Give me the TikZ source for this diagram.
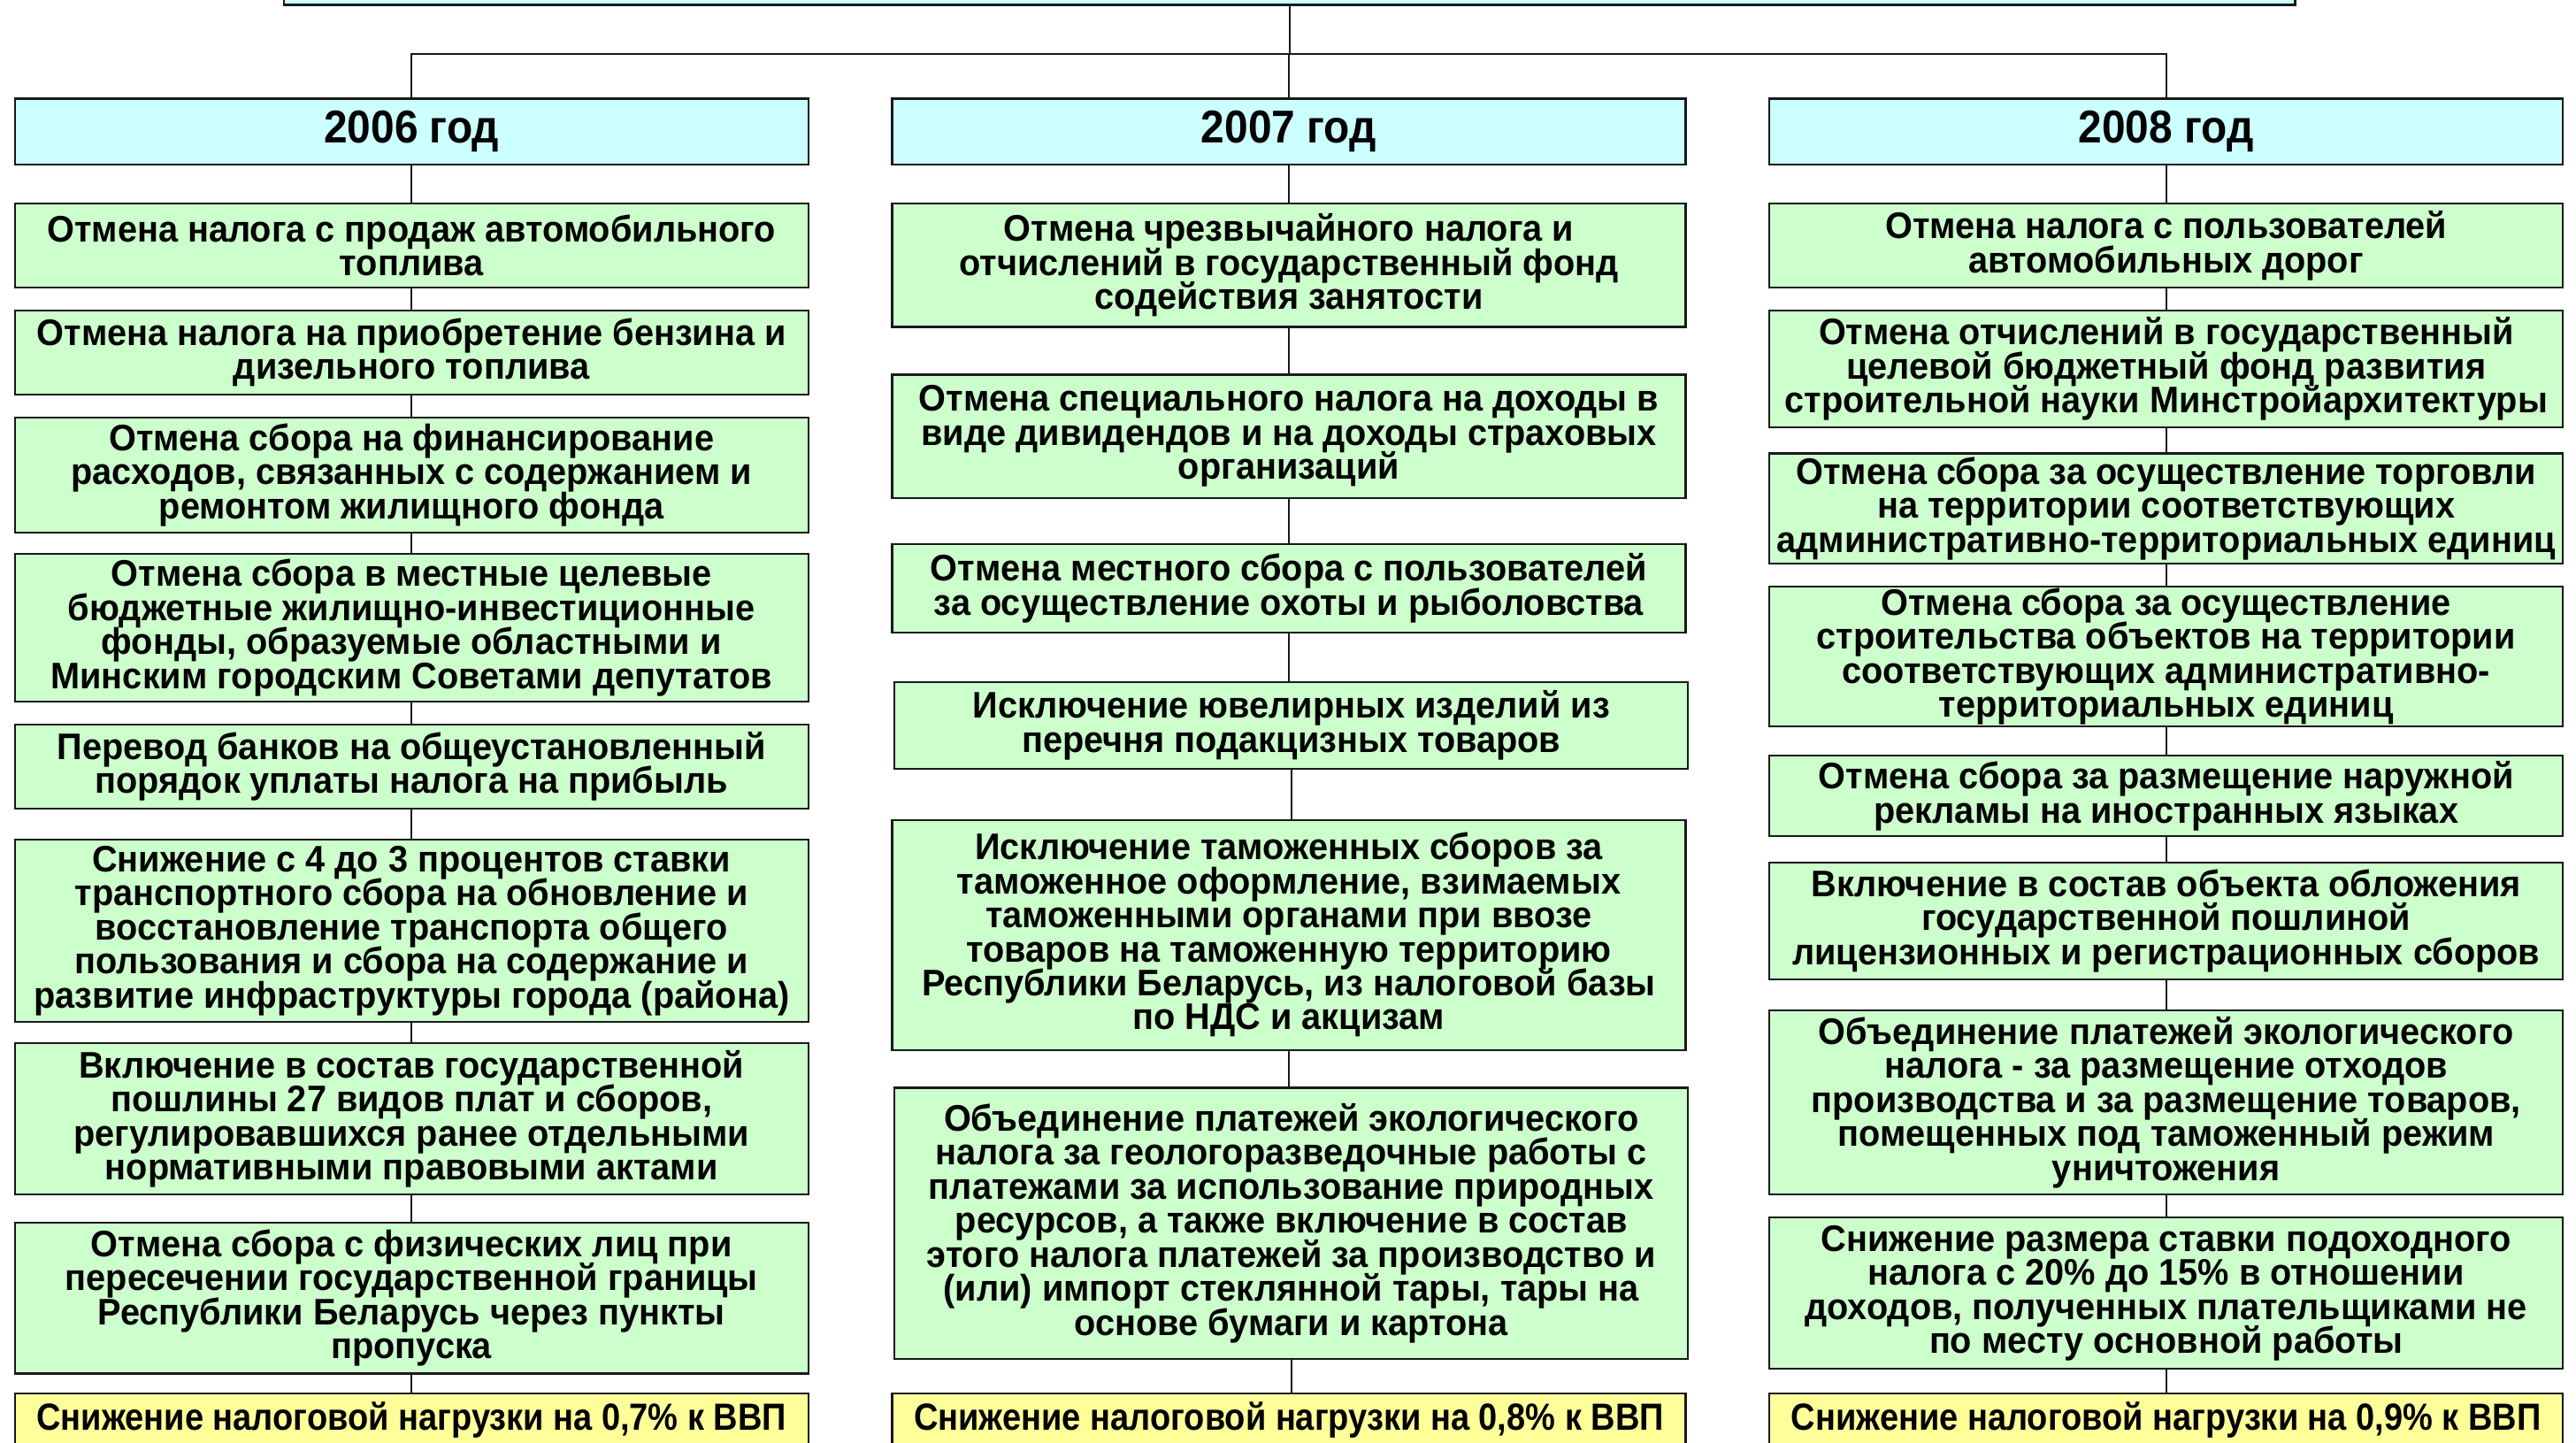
\documentclass[tikz,border=0pt]{standalone}
\usepackage{fontspec}
\setmainfont{Liberation Sans}
\newfontfamily\bodyfont{Liberation Sans}[FakeStretch=0.95]
\newfontfamily\yearfont{Liberation Sans}[FakeStretch=0.92]
\newfontfamily\footfont{Liberation Sans}[FakeStretch=0.89]
\newcommand\tightlines{\lineskiplimit=-100pt\relax\lineskip=0pt\relax}
\definecolor{gfill}{HTML}{CCFFCC}
\definecolor{cfill}{HTML}{CCFFFF}
\definecolor{yfill}{HTML}{FFFF99}
\begin{document}
\begin{tikzpicture}[x=1pt,y=-1pt,
  base/.style={draw=black!90,line width=1.2pt,inner sep=0pt,align=center,
    minimum width=483pt,font=\bodyfont\bfseries\fontsize{22.5}{20.7}\selectfont\tightlines},
  gbox/.style={base,fill=gfill},
  ybox/.style={base,fill=cfill,font=\yearfont\bfseries\fontsize{28}{28}\selectfont},
  rbox/.style={base,fill=yfill,font=\footfont\bfseries\fontsize{23}{23}\selectfont},
  tbox/.style={base,fill=cfill,minimum width=1224pt},
  conn/.style={draw=black!90,line width=1pt}]
\useasboundingbox (0,0) rectangle (1568,878);
\clip (0,0) rectangle (1568,878);
% top box
\node[tbox,minimum height=60pt] (top) at (785,-27) {};
% year boxes
\node[ybox,minimum height=40pt] (y06) at (250.5,80) {2006 год};
\node[ybox,minimum height=40pt] (y07) at (784.5,80) {2007 год};
\node[ybox,minimum height=40pt] (y08) at (1318.5,80) {2008 год};
\coordinate (hub) at (785,33);
\draw[conn] (top.south) -- (hub);
\draw[conn] (y06.north) |- (hub);
\draw[conn] (y08.north) |- (hub);
\draw[conn] (y07.north) -- (y07.north |- hub);
% column 1
\node[gbox,minimum height=51pt] (a1) at (250.5,149.5) {Отмена налога с продаж автомобильного\\топлива};
\node[gbox,minimum height=51pt] (a2) at (250.5,214.5) {Отмена налога на приобретение бензина и\\дизельного топлива};
\node[gbox,minimum height=70pt] (a3) at (250.5,289) {Отмена сбора на финансирование\\расходов, связанных с содержанием и\\ремонтом жилищного фонда};
\node[gbox,minimum height=90pt] (a4) at (250.5,382) {Отмена сбора в местные целевые\\бюджетные жилищно-инвестиционные\\фонды, образуемые областными и\\Минским городским Советами депутатов};
\node[gbox,minimum height=51pt] (a5) at (250.5,466.5) {Перевод банков на общеустановленный\\порядок уплаты налога на прибыль};
\node[gbox,minimum height=111pt] (a6) at (250.5,566.5) {Снижение с 4 до 3 процентов ставки\\транспортного сбора на обновление и\\восстановление транспорта общего\\пользования и сбора на содержание и\\развитие инфраструктуры города (района)};
\node[gbox,minimum height=92pt] (a7) at (250.5,681) {Включение в состав государственной\\пошлины 27 видов плат и сборов,\\регулировавшихся ранее отдельными\\нормативными правовыми актами};
\node[gbox,minimum height=92pt] (a8) at (250.5,790) {Отмена сбора с физических лиц при\\пересечении государственной границы\\Республики Беларусь через пункты\\пропуска};
\node[rbox,minimum height=32pt] (ya) at (250.5,864) {Снижение налоговой нагрузки на 0,7\% к ВВП};
% column 2
\node[gbox,minimum height=75pt] (b1) at (784.5,161.5) {Отмена чрезвычайного налога и\\отчислений в государственный фонд\\содействия занятости};
\node[gbox,minimum height=75pt] (b2) at (784.5,265.5) {Отмена специального налога на доходы в\\виде дивидендов и на доходы страховых\\организаций};
\node[gbox,minimum height=54pt] (b3) at (784.5,358) {Отмена местного сбора с пользователей\\за осуществление охоты и рыболовства};
\node[gbox,minimum height=53pt] (b4) at (786,441.5) {Исключение ювелирных изделий из\\перечня подакцизных товаров};
\node[gbox,minimum height=140pt] (b5) at (784.5,569) {Исключение таможенных сборов за\\таможенное оформление, взимаемых\\таможенными органами при ввозе\\товаров на таможенную территорию\\Республики Беларусь, из налоговой базы\\по НДС и акцизам};
\node[gbox,minimum height=165pt] (b6) at (786,744.5) {Объединение платежей экологического\\налога за геологоразведочные работы с\\платежами за использование природных\\ресурсов, а также включение в состав\\этого налога платежей за производство и\\(или) импорт стеклянной тары, тары на\\основе бумаги и картона};
\node[rbox,minimum height=32pt] (yb) at (784.5,864) {Снижение налоговой нагрузки на 0,8\% к ВВП};
% column 3
\node[gbox,minimum height=51pt] (c1) at (1318.5,149.5) {Отмена налога с пользователей\\автомобильных дорог};
\node[gbox,minimum height=71pt] (c2) at (1318.5,224.5) {Отмена отчислений в государственный\\целевой бюджетный фонд развития\\строительной науки Минстройархитектуры};
\node[gbox,minimum height=67pt] (c3) at (1318.5,309.5) {Отмена сбора за осуществление торговли\\на территории соответствующих\\административно-территориальных единиц};
\node[gbox,minimum height=85pt] (c4) at (1318.5,399.5) {Отмена сбора за осуществление\\строительства объектов на территории\\соответствующих административно-\\территориальных единиц};
\node[gbox,minimum height=49pt] (c5) at (1318.5,484.5) {Отмена сбора за размещение наружной\\рекламы на иностранных языках};
\node[gbox,minimum height=71pt] (c6) at (1318.5,560.5) {Включение в состав объекта обложения\\государственной пошлиной\\лицензионных и регистрационных сборов};
\node[gbox,minimum height=112pt] (c7) at (1318.5,671) {Объединение платежей экологического\\налога - за размещение отходов\\производства и за размещение товаров,\\помещенных под таможенный режим\\уничтожения};
\node[gbox,minimum height=92pt] (c8) at (1318.5,787) {Снижение размера ставки подоходного\\налога с 20\% до 15\% в отношении\\доходов, полученных плательщиками не\\по месту основной работы};
\node[rbox,minimum height=32pt] (yc) at (1318.5,864) {Снижение налоговой нагрузки на 0,9\% к ВВП};
% connectors
\foreach \u/\v in {y06/a1,a1/a2,a2/a3,a3/a4,a4/a5,a5/a6,a6/a7,a7/a8,a8/ya,
                   y07/b1,b1/b2,b2/b3,b3/b4,b4/b5,b5/b6,b6/yb,
                   y08/c1,c1/c2,c2/c3,c3/c4,c4/c5,c5/c6,c6/c7,c7/c8,c8/yc}
  \draw[conn] (\u.south) -- (\v.north -| \u.south);
\end{tikzpicture}
\end{document}
